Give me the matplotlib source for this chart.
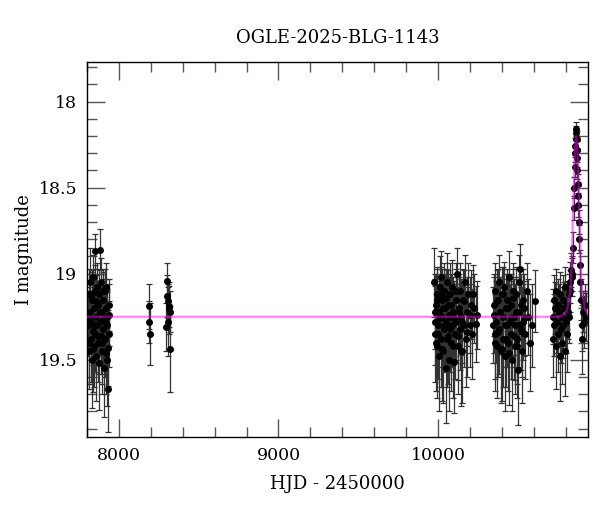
import numpy as np
import matplotlib
matplotlib.use("Agg")
import matplotlib.pyplot as plt
from matplotlib.ticker import MultipleLocator

plt.rcParams['font.family'] = ['DejaVu Serif']

title = "OGLE-2025-BLG-1143"
xlabel = "HJD - 2450000"
ylabel = "I magnitude"

# season 1
t1 = [7808, 7812, 7815, 7818, 7821, 7824, 7827, 7830, 7833, 7836, 7839, 7842, 7845, 7848, 7850,
      7853, 7856, 7859, 7862, 7865, 7868, 7871, 7874, 7877, 7880, 7883, 7886, 7889, 7892, 7895,
      7898, 7901, 7904, 7907, 7910, 7913, 7916, 7919, 7922, 7925, 7928, 7931, 7934, 7937, 7940,
      7810, 7820, 7829, 7838, 7847, 7858, 7867, 7879, 7891, 7903, 7915, 7927, 7939]
m1 = [19.30, 19.12, 19.45, 19.22, 19.05, 19.38, 19.28, 19.50, 19.15, 19.33, 19.02, 19.42, 19.20, 19.10, 18.87,
      19.35, 19.25, 19.48, 19.08, 19.30, 19.18, 19.40, 19.52, 19.12, 18.86, 19.28, 19.36, 19.05, 19.22, 19.45,
      19.15, 19.32, 19.26, 19.55, 19.10, 19.38, 19.20, 19.46, 19.08, 19.30, 19.25, 19.67, 19.43, 19.18, 19.35,
      19.40, 19.26, 19.12, 19.44, 19.30, 19.16, 19.36, 19.22, 19.40, 19.10, 19.28, 19.50, 19.24]
e1 = [0.18, 0.15, 0.22, 0.12, 0.20, 0.25, 0.14, 0.28, 0.16, 0.20, 0.13, 0.24, 0.18, 0.15, 0.10,
      0.22, 0.17, 0.26, 0.14, 0.19, 0.12, 0.23, 0.27, 0.15, 0.12, 0.20, 0.22, 0.14, 0.18, 0.25,
      0.16, 0.21, 0.15, 0.28, 0.13, 0.22, 0.17, 0.24, 0.14, 0.20, 0.16, 0.25, 0.22, 0.15, 0.19,
      0.24, 0.18, 0.14, 0.25, 0.20, 0.15, 0.22, 0.17, 0.24, 0.13, 0.20, 0.27, 0.18]

# season 2
t2 = [8188, 8190, 8192]
m2 = [19.19, 19.28, 19.35]
e2 = [0.13, 0.12, 0.18]

# season 3
t3 = [8296, 8300, 8303, 8306, 8309, 8312, 8315, 8318, 8321]
m3 = [19.31, 19.04, 19.13, 19.28, 19.16, 19.20, 19.19, 19.44, 19.22]
e3 = [0.14, 0.10, 0.12, 0.20, 0.10, 0.15, 0.12, 0.25, 0.12]

# season 4
t4 = [9975, 9980, 9984, 9988, 9992, 9996,
      10000, 10004, 10008, 10012, 10016, 10020, 10024, 10028, 10032, 10036, 10040, 10044, 10048, 10052,
      10056, 10060, 10064, 10068, 10072, 10076, 10080,
      10085, 10090, 10095, 10100, 10105, 10110, 10115, 10120, 10125, 10130, 10135, 10140, 10145, 10150,
      10156, 10162, 10168, 10175, 10182, 10190, 10198, 10206, 10215, 10225, 10235, 10245,
      9978, 9986, 9994, 10002, 10010, 10018, 10026, 10034, 10042, 10050, 10058, 10066, 10074,
      10083, 10093, 10103, 10113, 10123, 10133, 10143, 10153, 10165, 10180, 10200, 10220]
m4 = [19.05, 19.28, 19.35, 19.18, 19.42, 19.12, 19.30, 19.22, 19.48, 19.08,
      19.02, 19.38, 19.25, 19.15, 19.45, 19.32, 19.10, 19.20, 19.55, 19.28,
      19.05, 19.36, 19.18, 19.50, 19.25, 19.12, 19.40, 19.30, 19.08, 19.22,
      19.51, 19.35, 19.15, 19.28, 19.00, 19.42, 19.20, 19.32, 19.10, 19.25,
      19.45, 19.15, 19.30, 19.05, 19.38, 19.22, 19.12, 19.30, 19.18, 19.35,
      19.20, 19.29, 19.24,
      19.22, 19.40, 19.15, 19.35, 19.26, 19.12, 19.44, 19.20, 19.30, 19.14, 19.38, 19.24, 19.32,
      19.18, 19.42, 19.26, 19.10, 19.36, 19.22, 19.45, 19.28, 19.16, 19.34, 19.24, 19.12]
e4 = [0.20, 0.25, 0.28, 0.18, 0.30, 0.16, 0.24, 0.20, 0.32, 0.18,
      0.15, 0.28, 0.22, 0.18, 0.30, 0.25, 0.16, 0.20, 0.32, 0.24,
      0.17, 0.28, 0.20, 0.30, 0.22, 0.18, 0.28, 0.24, 0.16, 0.20,
      0.30, 0.26, 0.18, 0.22, 0.15, 0.28, 0.20, 0.24, 0.16, 0.22,
      0.30, 0.18, 0.24, 0.16, 0.28, 0.20, 0.18, 0.24, 0.20, 0.26,
      0.20, 0.22, 0.20,
      0.22, 0.28, 0.18, 0.26, 0.22, 0.16, 0.30, 0.20, 0.24, 0.17, 0.28, 0.22, 0.25,
      0.18, 0.30, 0.22, 0.16, 0.26, 0.20, 0.32, 0.24, 0.18, 0.26, 0.22, 0.17]

# season 5
t5 = [10345, 10350, 10355, 10360, 10365, 10370, 10375, 10380, 10385, 10390,
      10395, 10400, 10405, 10410, 10415, 10420, 10425, 10430, 10435, 10440,
      10445, 10450, 10455, 10460, 10465, 10470, 10475, 10480, 10485, 10490,
      10495, 10500, 10505, 10510, 10515, 10520, 10525, 10530, 10535, 10540,
      10548, 10556, 10565, 10575, 10590, 10610,
      10348, 10358, 10368, 10378, 10388, 10398, 10408, 10418, 10428, 10438,
      10448, 10458, 10468, 10478, 10488, 10498, 10508, 10518, 10528, 10538]
m5 = [19.30, 19.18, 19.35, 19.10, 19.28, 19.42, 19.15, 19.05, 19.32, 19.22,
      19.45, 19.12, 19.38, 19.25, 19.08, 19.48, 19.20, 19.30, 19.15, 19.40,
      19.02, 19.28, 19.35, 19.18, 19.50, 19.10, 19.25, 19.42, 19.30, 19.12,
      19.38, 19.56, 19.22, 19.05, 18.97, 19.32, 19.45, 19.15, 19.28, 19.20,
      19.35, 19.10, 19.25, 19.40, 19.30, 19.16,
      19.24, 19.40, 19.16, 19.34, 19.22, 19.44, 19.12, 19.30, 19.38, 19.20,
      19.46, 19.26, 19.14, 19.36, 19.22, 19.42, 19.30, 19.18, 19.34, 19.26]
e5 = [0.22, 0.18, 0.26, 0.16, 0.24, 0.30, 0.18, 0.16, 0.26, 0.20,
      0.30, 0.16, 0.28, 0.22, 0.15, 0.32, 0.20, 0.24, 0.18, 0.28,
      0.15, 0.22, 0.26, 0.18, 0.30, 0.16, 0.22, 0.28, 0.24, 0.16,
      0.26, 0.32, 0.20, 0.16, 0.14, 0.24, 0.30, 0.18, 0.22, 0.20,
      0.26, 0.16, 0.22, 0.28, 0.24, 0.18,
      0.22, 0.28, 0.18, 0.26, 0.20, 0.30, 0.16, 0.24, 0.28, 0.20,
      0.30, 0.22, 0.17, 0.26, 0.20, 0.30, 0.24, 0.18, 0.26, 0.22]

# season 6 (pre-peak)
t6 = [10718, 10722, 10726, 10730, 10734, 10738, 10742, 10746, 10750, 10754,
      10758, 10762, 10766, 10770, 10774, 10778, 10782, 10786, 10790, 10794,
      10798, 10802, 10806, 10810, 10814, 10818, 10822, 10826, 10830, 10834, 10838]
m6 = [19.25, 19.38, 19.15, 19.30, 19.20, 19.42, 19.10, 19.28, 19.35, 19.18,
      19.22, 19.48, 19.12, 19.32, 19.25, 19.40, 19.15, 19.30, 19.20, 19.45,
      19.08, 19.28, 19.35, 19.18, 19.22, 19.12, 19.25, 19.10, 19.05, 18.98, 19.02]
e6 = [0.16, 0.22, 0.14, 0.18, 0.15, 0.25, 0.13, 0.18, 0.22, 0.15,
      0.16, 0.26, 0.13, 0.20, 0.17, 0.24, 0.14, 0.19, 0.15, 0.26,
      0.12, 0.18, 0.22, 0.14, 0.16, 0.12, 0.15, 0.12, 0.12, 0.10, 0.11]

# peak
tp = [10842, 10846, 10850, 10853, 10856, 10858, 10860, 10862, 10864, 10866, 10868,
      10870, 10872, 10874, 10876, 10878, 10880, 10882, 10885, 10888, 10891, 10895]
mp = [19.00, 18.85, 18.62, 18.50, 18.38, 18.30, 18.26, 18.22, 18.18, 18.16, 18.22,
      18.28, 18.33, 18.40, 18.48, 18.55, 18.60, 18.70, 18.80, 18.95, 19.05, 19.15]
ep = [0.10, 0.09, 0.07, 0.06, 0.06, 0.05, 0.05, 0.05, 0.04, 0.04, 0.05,
      0.05, 0.05, 0.05, 0.06, 0.06, 0.07, 0.07, 0.08, 0.09, 0.10, 0.12]

# after peak
ta = [10900, 10905, 10910, 10915, 10920, 10928]
ma = [19.30, 19.38, 19.22, 19.28, 19.18, 19.25]
ea = [0.15, 0.20, 0.12, 0.15, 0.12, 0.14]

# model curve
model_t = [7800, 10750, 10786, 10810, 10830, 10838, 10844, 10850, 10856, 10861, 10866,
           10871, 10876, 10882, 10888, 10894, 10902, 10922, 10940]
model_m = [19.25, 19.25, 19.24, 19.21, 19.09, 18.95, 18.72, 18.52, 18.34, 18.24, 18.20,
           18.24, 18.34, 18.52, 18.72, 18.95, 19.09, 19.21, 19.24]

fig = plt.figure(figsize=(6.0, 5.12), dpi=100)
ax = fig.add_axes([0.145, 0.146, 0.835, 0.733])

for t, m, e in [(t1, m1, e1), (t2, m2, e2), (t3, m3, e3), (t4, m4, e4), (t5, m5, e5),
                (t6, m6, e6), (tp, mp, ep), (ta, ma, ea)]:
    ax.errorbar(t, m, yerr=e, fmt='o', color='black', ms=4.0, mec='black',
                ecolor='#333333', elinewidth=0.9, capsize=2.5, capthick=0.9, zorder=2)

ax.plot(model_t, model_m, color='magenta', alpha=0.5, lw=1.6, zorder=3)

ax.set_xlim(7800, 10940)
ax.set_ylim(19.95, 17.77)
ax.xaxis.set_major_locator(MultipleLocator(1000))
ax.xaxis.set_minor_locator(MultipleLocator(200))
ax.yaxis.set_major_locator(MultipleLocator(0.5))
ax.yaxis.set_minor_locator(MultipleLocator(0.1))
ax.yaxis.set_major_formatter(matplotlib.ticker.FuncFormatter(lambda v, p: f"{v:g}"))
ax.tick_params(which='both', direction='in', top=True, right=True, color='#555555')
ax.tick_params(which='major', length=13, width=1, labelsize=12.5, pad=7)
ax.tick_params(which='minor', length=7, width=1)
for s in ax.spines.values():
    s.set_linewidth(1.0)

ax.set_title(title, fontsize=13, pad=14)
ax.set_xlabel(xlabel, fontsize=13, labelpad=8)
ax.set_ylabel(ylabel, fontsize=13, labelpad=4)

fig.savefig("out.png", dpi=100)
